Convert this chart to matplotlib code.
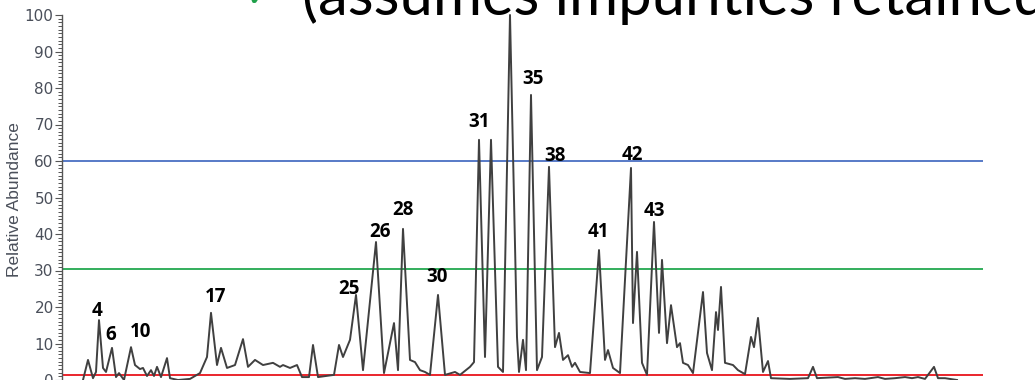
"""
Chromatogram with impurity thresholds
=====================================
Relative abundance trace with numbered peaks and three threshold lines,
cropped the way it sits on the slide (header text cut at the top).
"""

import matplotlib
matplotlib.use("Agg")
import matplotlib.pyplot as plt
from matplotlib.ticker import MultipleLocator

# trace vertices: retention time (min) and relative abundance (%)
TRACE_TIME = [
    2.1, 2.6, 3.1, 3.4, 3.7, 4.1, 4.4, 5.0, 5.4, 5.7, 6.2, 6.9, 7.3, 7.8,
    8.1, 8.5, 8.9, 9.2, 9.5, 9.9, 10.5, 10.8, 11.6, 12.8, 13.8, 14.5, 14.9,
    15.5, 15.9, 16.5, 17.3, 18.1, 18.6, 19.3, 20.1, 21.1, 21.8, 22.1, 22.8,
    23.5, 24.0, 24.7, 25.1, 25.6, 27.2, 27.7, 28.1, 28.8, 29.4, 30.1, 31.4,
    32.2, 33.2, 33.6, 34.1, 34.8, 35.3, 35.8, 36.3, 36.8, 37.6, 38.3, 39.3,
    39.8, 40.8, 41.2, 41.7, 42.3, 42.9, 43.6, 44.1, 44.8, 45.5, 45.7, 46.1,
    46.4, 46.9, 47.5, 48.0, 48.7, 49.3, 49.7, 50.1, 50.6, 51.0, 51.3, 51.8,
    52.8, 53.7, 54.3, 54.6, 55.1, 55.8, 56.9, 57.1, 57.5, 58.0, 58.5, 59.2,
    59.7, 60.0, 60.5, 60.9, 61.5, 61.8, 62.1, 62.6, 63.1, 64.1, 64.5, 65.0,
    65.4, 65.6, 65.9, 66.3, 67.1, 67.6, 68.3, 68.9, 69.2, 69.6, 70.1, 70.6,
    70.9, 72.8, 74.6, 75.1, 75.5, 77.6, 78.3, 79.3, 80.3, 81.6, 82.3, 83.3,
    84.3, 85.0, 85.6, 86.3, 87.2, 87.6, 88.3, 88.8, 89.5,
]
TRACE_ABUNDANCE = [
    0.0, 5.5, 0.5, 2.2, 16.4, 3.3, 2.2, 8.8, 0.8, 1.9, 0.0, 9.0, 4.1, 3.0,
    3.3, 1.1, 2.7, 1.1, 3.6, 0.8, 6.0, 0.5, 0.0, 0.3, 1.9, 6.3, 18.4,
    4.1, 8.8, 3.3, 4.1, 11.2, 3.6, 5.5, 4.1, 4.7, 3.6, 4.1, 3.3,
    4.1, 0.8, 0.8, 9.6, 0.8, 1.4, 9.6, 6.3, 11.0, 23.3, 2.7, 37.8,
    1.9, 15.6, 2.7, 41.4, 5.5, 4.9, 2.7, 2.2, 1.4, 23.3, 1.4, 2.2,
    1.4, 3.6, 4.9, 65.8, 6.3, 65.8, 3.6, 2.2, 100.0, 11.8, 2.2, 11.0,
    2.7, 78.1, 2.7, 6.3, 58.4, 9.0, 12.9, 5.5, 6.8, 3.6, 4.7, 2.2,
    1.9, 35.6, 5.5, 8.2, 3.3, 1.9, 58.1, 15.6, 35.1, 4.7, 1.4, 43.3,
    12.9, 32.9, 10.1, 20.5, 9.0, 10.1, 4.7, 4.1, 1.9, 24.1, 7.4, 2.7,
    18.6, 13.7, 25.5, 4.7, 4.1, 2.7, 1.6, 11.8, 9.0, 17.0, 2.2, 5.2,
    0.5, 0.3, 0.5, 3.6, 0.5, 0.8, 0.3, 0.5, 0.3, 0.8, 0.3, 0.5,
    0.8, 0.5, 0.8, 0.3, 3.6, 0.5, 0.5, 0.3, 0.0,
]

PEAK_LABELS = ["4", "6", "10", "17", "25", "26", "28", "30",
               "31", "35", "38", "41", "42", "43"]
LABEL_TIME = [3.55, 4.9, 7.9, 15.4, 28.7, 31.8, 34.1, 37.5,
              41.7, 47.1, 49.3, 53.6, 57.0, 59.2]
LABEL_ABUNDANCE = [18.9, 12.3, 13.2, 22.7, 24.9, 40.5, 46.6, 28.2,
                   70.7, 82.5, 61.4, 40.5, 61.6, 46.3]

THRESHOLDS = [60.0, 30.4, 1.4]
THRESHOLD_COLORS = ["#4A6FC3", "#23A84F", "#E8141B"]
THRESHOLD_END = 92.1

HEADER = "(assumes impurities retained"

W, H = 1035, 380


def draw_chart(output_path):
    fig = plt.figure(figsize=(W / 100, H / 100), dpi=100)
    fig.patch.set_facecolor("white")

    # axes: spine at x=62 px, 100 % at y=15 px, 0 % at the bottom edge
    ax = fig.add_axes([62 / W, 0, (W - 62) / W, (H - 15) / H])
    ax.set_xlim(0, (W - 62) / 10)
    ax.set_ylim(0, 100)

    for y, c in zip(THRESHOLDS, THRESHOLD_COLORS):
        ax.hlines(y, 0, THRESHOLD_END, color=c, lw=1.3, zorder=1)

    ax.plot(TRACE_TIME, TRACE_ABUNDANCE, color="#404040", lw=1.4,
            solid_joinstyle="round", clip_on=False, zorder=2)

    for name, t, a in zip(PEAK_LABELS, LABEL_TIME, LABEL_ABUNDANCE):
        ax.text(t, a, name, ha="center", va="center", fontsize=13.5,
                fontweight="bold", color="black",
                family=["Open Sans", "DejaVu Sans"], zorder=3)

    for side in ("top", "right", "bottom"):
        ax.spines[side].set_visible(False)
    ax.spines["left"].set_color("#555555")
    ax.spines["left"].set_linewidth(1.0)

    ax.xaxis.set_visible(False)
    ax.yaxis.set_major_locator(MultipleLocator(10))
    ax.yaxis.set_minor_locator(MultipleLocator(1))
    ax.tick_params(axis="y", which="major", length=5, width=0.8,
                   color="#555555", labelcolor="#4a4f5a", labelsize=11, pad=1)
    ax.tick_params(axis="y", which="minor", length=3, width=0.7,
                   color="#555555")
    for lbl in ax.get_yticklabels():
        lbl.set_family(["DejaVu Sans"])

    ax.set_ylabel("Relative Abundance", fontsize=12.5, color="#4a4f5a",
                  family=["Liberation Sans", "DejaVu Sans"])
    ax.yaxis.set_label_coords(-0.041, 0.493)

    # slide text that overlaps the top of the picture
    fig.text(302 / W, 1 - 15 / H, HEADER, fontsize=43, color="black",
             family=["Lato", "DejaVu Sans"], va="baseline", ha="left")
    fig.text(258 / W, 1 - 5 / H, "\u2714", fontsize=18, color="#1FA04A",
             family=["DejaVu Sans"], va="baseline", ha="center")

    fig.savefig(output_path, dpi=100)
    plt.close(fig)


def main():
    draw_chart("out.png")


if __name__ == "__main__":
    main()
